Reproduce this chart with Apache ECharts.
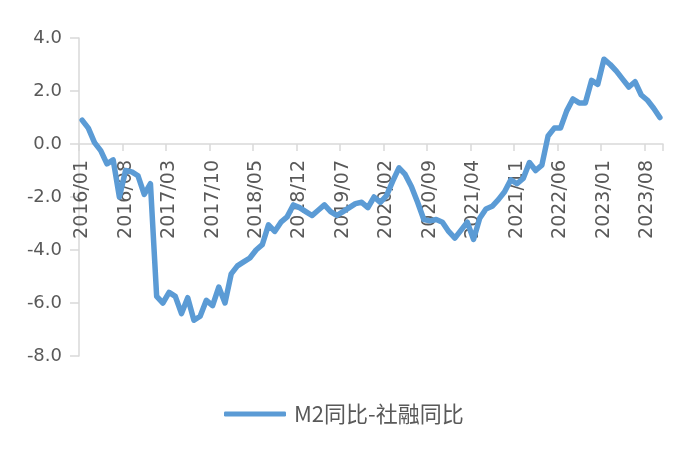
<!DOCTYPE html>
<html>
<head>
<meta charset="utf-8">
<script src="https://cdn.jsdelivr.net/npm/echarts@6/dist/echarts.min.js"></script>
<style>
html,body{margin:0;padding:0;background:#fff;}
#chart{width:700px;height:455px;}
</style>
</head>
<body>
<div id="chart"></div>
<script>
// Monthly categories 2016/01 .. 2023/10
var startYear = 2016, startMonth = 1, monthCount = 94;
var categories = [];
for (var k = 0; k < monthCount; k++) {
  var m = startMonth - 1 + k;
  var y = startYear + Math.floor(m / 12);
  var mm = (m % 12) + 1;
  categories.push(y + '/' + (mm < 10 ? '0' + mm : mm));
}

var seriesName = 'M2同比-社融同比';
var spreadValues = [
  0.9, 0.6, 0.05, -0.25, -0.75, -0.6, -2.0, -1.0, -1.05, -1.2, -1.9, -1.5,
  -5.75, -6.0, -5.6, -5.75, -6.4, -5.8, -6.65, -6.5, -5.9, -6.1, -5.4, -6.0,
  -4.9, -4.6, -4.45, -4.3, -4.0, -3.8, -3.05, -3.3, -2.95, -2.75, -2.3, -2.4,
  -2.55, -2.7, -2.5, -2.3, -2.55, -2.7, -2.55, -2.4, -2.25, -2.2, -2.4, -2.0,
  -2.2, -1.95, -1.4, -0.9, -1.15, -1.6, -2.2, -2.85, -2.9, -2.85, -2.95, -3.3,
  -3.55, -3.25, -2.95, -3.6, -2.8, -2.45, -2.35, -2.1, -1.8, -1.35, -1.5, -1.3,
  -0.7, -1.0, -0.8, 0.3, 0.6, 0.6, 1.25, 1.7, 1.55, 1.55, 2.4, 2.25,
  3.2, 3.0, 2.75, 2.45, 2.15, 2.35, 1.85, 1.65, 1.35, 1.0
];

var yMin = -8, yMax = 4, yStep = 2;

var gridTop = 38, gridBottom = 99, chartH = 455;
var plotH = chartH - gridTop - gridBottom;
// place category axis at the y = 0 line
var zeroOffset = -Math.round(plotH * (0 - yMin) / (yMax - yMin));

var chart = echarts.init(document.getElementById('chart'), null, {renderer: 'canvas'});
var labelFont = 'DejaVu Sans';
chart.setOption({
  animation: false,
  backgroundColor: '#ffffff',
  grid: {left: 79, right: 37, top: gridTop, bottom: gridBottom, containLabel: false},
  legend: {
    data: [{name: seriesName, icon: 'roundRect'}],
    left: 219,
    top: 398,
    itemWidth: 62,
    itemHeight: 5,
    textStyle: {color: '#595959', fontSize: 22, fontFamily: 'Noto Sans CJK SC', padding: [0, 0, 0, 3]}
  },
  xAxis: {
    type: 'category',
    data: categories,
    boundaryGap: true,
    position: 'bottom',
    offset: zeroOffset,
    axisLine: {onZero: false, lineStyle: {color: '#d9d9d9', width: 1.5}},
    axisTick: {show: true, interval: 6, length: 7, inside: false, lineStyle: {color: '#d9d9d9', width: 1.5}},
    axisLabel: {interval: 6, rotate: 90, margin: 16, color: '#595959', fontSize: 19, fontFamily: labelFont},
    splitLine: {show: false}
  },
  yAxis: {
    type: 'value',
    min: yMin,
    max: yMax,
    interval: yStep,
    axisLine: {show: true, onZero: false, lineStyle: {color: '#d9d9d9', width: 1.5}},
    axisTick: {show: true, length: 9, lineStyle: {color: '#d9d9d9', width: 1.5}},
    axisLabel: {margin: 17, color: '#595959', fontSize: 18, fontFamily: labelFont,
      formatter: function (v) { return v.toFixed(1); }},
    splitLine: {show: false}
  },
  series: [{
    name: seriesName,
    type: 'line',
    data: spreadValues,
    showSymbol: false,
    symbol: 'none',
    smooth: false,
    color: '#5b9bd5',
    z: 3,
    lineStyle: {width: 5.5, color: '#5b9bd5', cap: 'round', join: 'round'}
  }]
});
</script>
</body>
</html>
